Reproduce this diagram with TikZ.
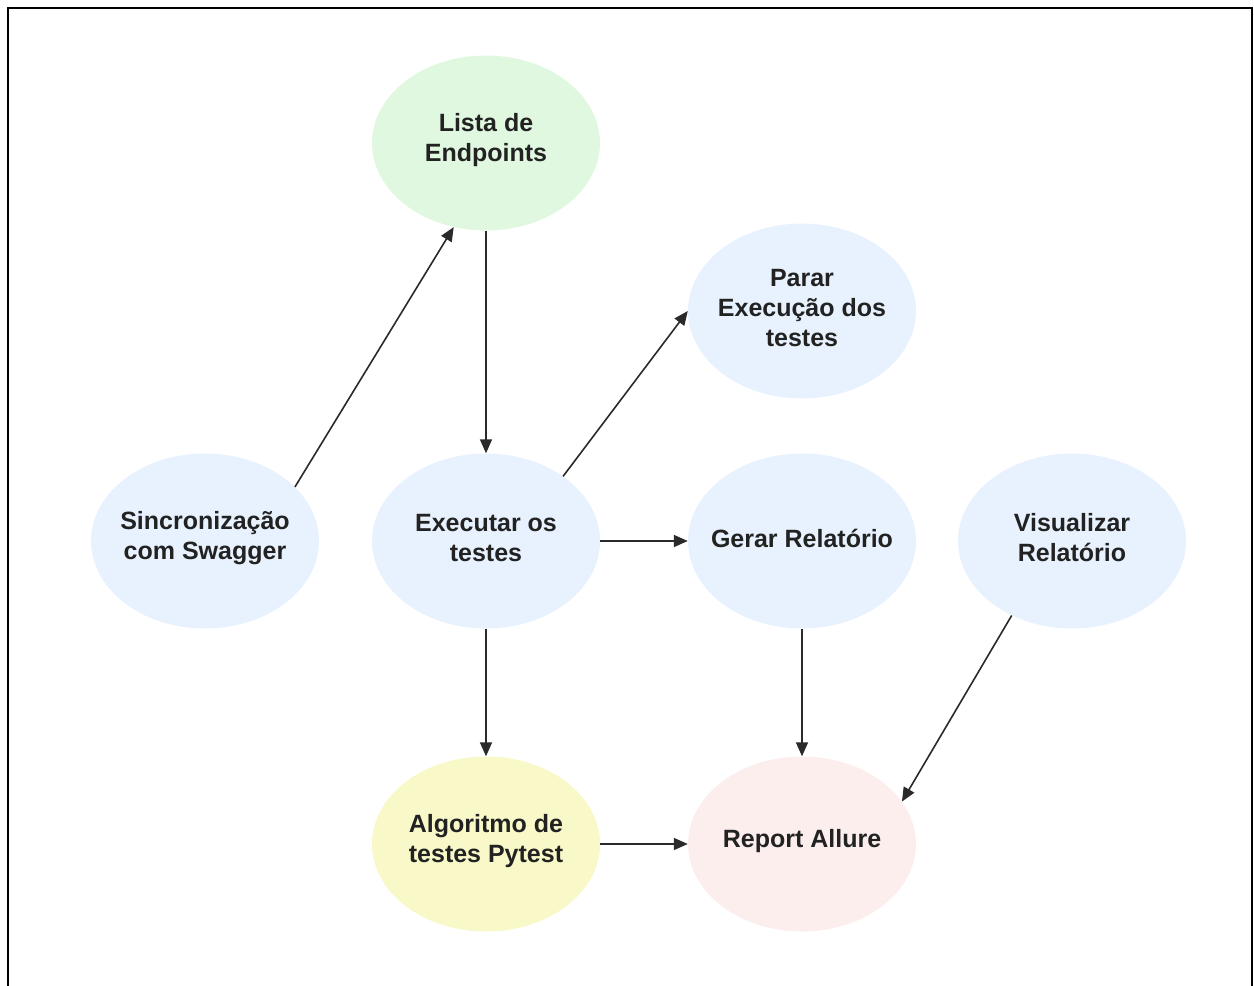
\documentclass[tikz,border=0pt]{standalone}
\usepackage{fontspec}
\setmainfont{Liberation Sans}
\usetikzlibrary{shapes.geometric,arrows.meta}
\definecolor{fblue}{HTML}{E8F2FE}
\definecolor{fgreen}{HTML}{E0F8E0}
\definecolor{fyellow}{HTML}{F8F8C8}
\definecolor{fpink}{HTML}{FDEEEE}
\definecolor{txt}{HTML}{222222}
\definecolor{arr}{HTML}{2A2A2A}
\tikzset{
  bub/.style={ellipse, minimum width=228pt, minimum height=175pt, inner sep=0pt, draw=none},
  lbl/.style={align=center, text=txt, font=\fontsize{25}{30}\selectfont\bfseries, inner sep=0pt, yshift=3pt},
  conn/.style={draw=arr, line width=1.6pt, -{Triangle[length=14pt,width=12pt]}},
  frame/.style={draw=black, line width=2.5pt}
}
\begin{document}
\begin{tikzpicture}[x=1pt,y=-1pt]
\useasboundingbox (0,0) rectangle (1254,986);
\draw[frame] (8,990) -- (8,8) -- (1252,8) -- (1252,990);
\node[bub, fill=fgreen,  label={[lbl]center:Lista de\\Endpoints}]        (lista) at (486,143) {};
\node[bub, fill=fblue,   label={[lbl]center:Sincronização\\com Swagger}] (sinc)  at (205,541) {};
\node[bub, fill=fblue,   label={[lbl]center:Executar os\\testes}]         (exec)  at (486,541) {};
\node[bub, fill=fblue,   label={[lbl]center:Parar\\Execução dos\\testes}] (parar) at (802,311) {};
\node[bub, fill=fblue,   label={[lbl]center:Gerar Relatório}]             (gerar) at (802,541) {};
\node[bub, fill=fblue,   label={[lbl]center:Visualizar\\Relatório}]       (vis)   at (1072,541) {};
\node[bub, fill=fyellow, label={[lbl]center:Algoritmo de\\testes Pytest}] (alg)   at (486,844) {};
\node[bub, fill=fpink,   label={[lbl]center:Report Allure}]               (rep)   at (802,844) {};
\draw[conn] (sinc.31.5) -- (lista.249);
\draw[conn] (lista.south) -- (exec.north);
\draw[conn] (exec.40) -- (parar.180);
\draw[conn] (exec.east) -- (gerar.west);
\draw[conn] (exec.south) -- (alg.north);
\draw[conn] (gerar.south) -- (rep.north);
\draw[conn] (vis.231.7) -- (rep.23.5);
\draw[conn] (alg.east) -- (rep.west);
\end{tikzpicture}
\end{document}
